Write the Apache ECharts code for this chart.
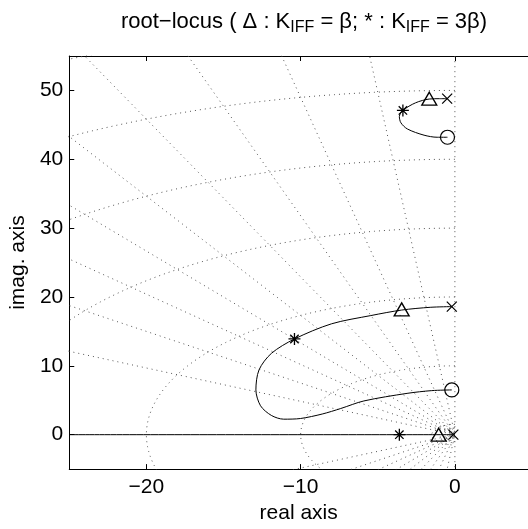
<!DOCTYPE html>
<html>
<head>
<meta charset="utf-8">
<script src="https://cdn.jsdelivr.net/npm/echarts@6/dist/echarts.min.js"></script>
<style>
  html, body { margin: 0; padding: 0; background: #fff; }
  #chart { width: 528px; height: 529px; }
</style>
</head>
<body>
<div id="chart"></div>
<script>
// tick values
const realTicks = [-20, -10, 0]
const imagTicks = [0, 10, 20, 30, 40, 50]

// s-plane grid: damping ratios and natural frequencies
const zetaValues = [0, 0.1, 0.2, 0.3, 0.4, 0.5, 0.6, 0.7, 0.8, 0.9]
const wnValues = [0.5, 1, 1.5, 10, 20, 30, 40, 50, 60]

// root-locus branches
const locusUpper = [[-0.5, 48.8], [-1.0, 48.8], [-1.66, 48.75], [-2.55, 48.2], [-3.37, 47.1],
  [-3.6, 46.2], [-3.5, 45.3], [-3.08, 44.4], [-2.0, 43.5], [-1.15, 43.2], [-0.48, 43.2]]
const locusMiddle = [[-0.2, 18.6], [-1.6, 18.5], [-3.45, 18.1], [-5.45, 17.3], [-8.0, 16.1],
  [-10.4, 13.9], [-11.9, 11.8], [-12.7, 9.4], [-12.9, 6.5], [-12.6, 4.2], [-11.9, 2.8],
  [-11.1, 2.25], [-10.0, 2.35], [-8.6, 3.0], [-7.4, 3.8], [-5.9, 4.9], [-3.1, 6.0],
  [-1.5, 6.4], [-0.2, 6.5]]
const locusReal = [[-25, 0], [-0.1, 0]]

// markers
const poles = [[-0.5, 48.8], [-0.2, 18.6], [-0.1, 0]]
const zeros = [[-0.48, 43.2], [-0.2, 6.5]]
const gainBeta = [[-1.66, 48.8], [-3.45, 18.2], [-1.05, 0]]
const gain3Beta = [[-3.37, 47.1], [-10.4, 13.9], [-3.6, 0]]

const font = 'Liberation Sans, Arial, Helvetica, sans-serif'
const minus = v => String(v).replace('-', '\u2212')

const gridStyle = { color: '#555', width: 1, type: [1, 4] }

const gridSeries = []
wnValues.forEach(r => {
  const pts = []
  for (let a = 90; a <= 270; a += 1) {
    const t = a * Math.PI / 180
    pts.push([r * Math.cos(t), r * Math.sin(t)])
  }
  gridSeries.push({ type: 'line', data: pts, symbol: 'none', silent: true, lineStyle: gridStyle, z: 1 })
})
zetaValues.forEach(z => {
  const R = 100
  const s = Math.sqrt(1 - z * z)
  gridSeries.push({
    type: 'line', symbol: 'none', silent: true, lineStyle: gridStyle, z: 1,
    data: [[-R * z, R * s], [0, 0], [-R * z, -R * s]]
  })
})

const locusLine = data => ({
  type: 'line', data, symbol: 'none', smooth: 0.3, z: 3,
  lineStyle: { color: '#000', width: 1 }
})

const marker = (data, symbol, size, bw) => ({
  type: 'scatter', data, symbol, symbolSize: size, z: 5,
  itemStyle: { color: 'transparent', borderColor: '#000', borderWidth: bw || 1, opacity: 1 }
})

const chart = echarts.init(document.getElementById('chart'), null, { renderer: 'canvas' })
chart.setOption({
  backgroundColor: '#fff',
  animation: false,
  title: {
    left: 299,
    top: 6,
    textAlign: 'center',
    text: '{n|root\u2212locus ( \u0394 : K}{s|IFF}{n| = \u03b2; * : K}{s|IFF}{n| = 3\u03b2)}',
    textStyle: {
      fontWeight: 'normal',
      rich: {
        n: { fontFamily: font, fontSize: 22, fontWeight: 'normal', color: '#000', lineHeight: 28, verticalAlign: 'top' },
        s: { fontFamily: font, fontSize: 16, fontWeight: 'normal', color: '#000', lineHeight: 28, verticalAlign: 'top', padding: [9, 0, 0, 0] }
      }
    }
  },
  grid: { left: 67, right: 0, top: 56, bottom: 56 },
  xAxis: [{
    type: 'value', min: -25, max: 4.74, position: 'bottom',
    name: 'real axis', nameLocation: 'middle', nameGap: 31,
    nameTextStyle: { fontFamily: font, fontSize: 21, color: '#000' },
    axisLine: { onZero: false, lineStyle: { color: '#000', width: 1 } },
    axisTick: { inside: true, length: 5, customValues: realTicks, lineStyle: { color: '#000' } },
    axisLabel: { customValues: realTicks, formatter: minus, fontFamily: font, fontSize: 21, color: '#000', margin: 8 },
    splitLine: { show: false }
  }, {
    type: 'value', min: -25, max: 4.74, position: 'top',
    axisLine: { onZero: false, lineStyle: { color: '#000', width: 1 } },
    axisTick: { inside: true, length: 5, customValues: realTicks, lineStyle: { color: '#000' } },
    axisLabel: { show: false },
    splitLine: { show: false }
  }],
  yAxis: {
    type: 'value', min: -5, max: 55, position: 'left',
    name: 'imag. axis', nameLocation: 'middle', nameGap: 27,
    nameTextStyle: { fontFamily: font, fontSize: 21, color: '#000' },
    axisLine: { onZero: false, lineStyle: { color: '#000', width: 1 } },
    axisTick: { inside: true, length: 5, customValues: imagTicks, lineStyle: { color: '#000' } },
    axisLabel: { customValues: imagTicks, formatter: minus, fontFamily: font, fontSize: 21, color: '#000', margin: 6 },
    splitLine: { show: false }
  },
  series: [
    ...gridSeries,
    locusLine(locusUpper),
    locusLine(locusMiddle),
    locusLine(locusReal),
    marker(poles, 'path://M0,0L10,10M10,0L0,10', 10, 1.2),
    marker(zeros, 'circle', 14, 1.2),
    marker(gainBeta, 'triangle', [15, 13], 1.3),
    marker(gain3Beta, 'path://M5,0L5,10M0,5L10,5M1.5,1.5L8.5,8.5M8.5,1.5L1.5,8.5', 12, 1.3)
  ]
})
</script>
</body>
</html>
